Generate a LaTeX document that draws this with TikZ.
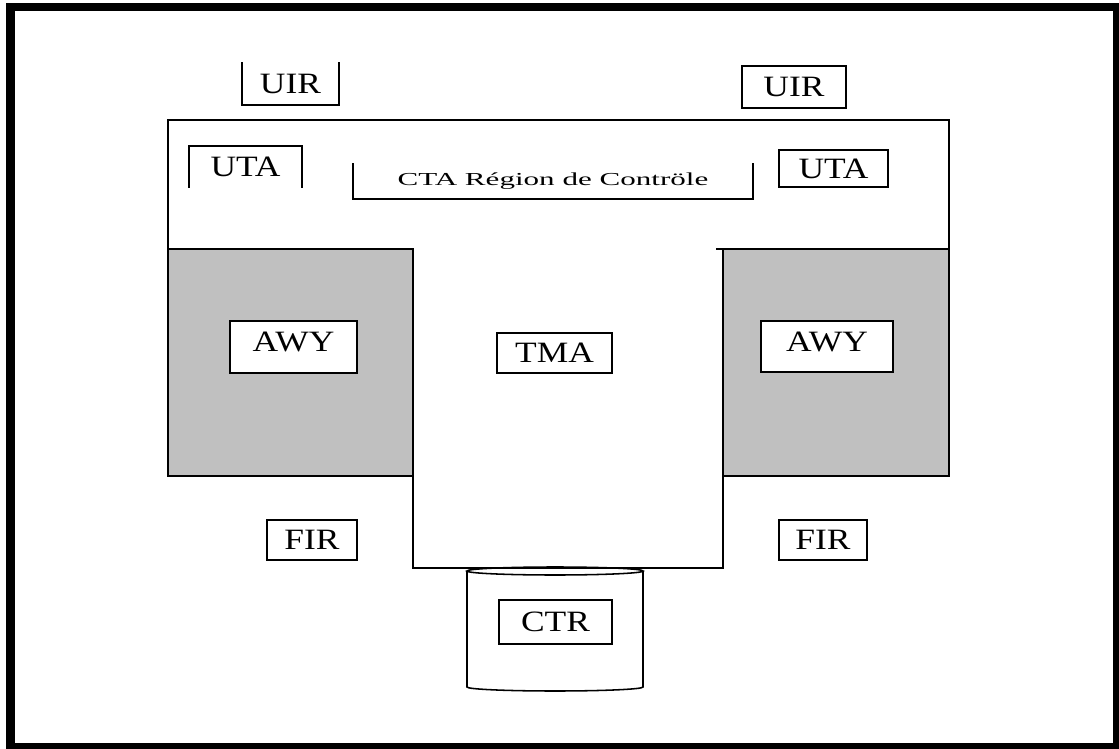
\documentclass[tikz,border=0pt]{standalone}
\usepackage{fontspec}
\setmainfont{Liberation Serif}
\newfontfamily\labfont[FakeStretch=1.2]{Liberation Serif}
\newfontfamily\ctafont[FakeStretch=1.7]{Liberation Serif}
\definecolor{zone-grey}{HTML}{C0C0C0}
\tikzset{
  box/.style 2 args={draw, line width=1.1pt, fill=white, inner sep=0pt,
    minimum width=#1*0.025cm, minimum height=#2*0.025cm,
    font=\labfont\fontsize{21}{24}\selectfont},
  openbox/.style 2 args={box={#1}{#2}, draw=none, fill=none},
}
\begin{document}
\begin{tikzpicture}[x=0.025cm, y=-0.025cm, line width=1.1pt]
    \useasboundingbox (0,0) rectangle (1119,749);
    \draw[line width=5.7pt] (10.5,7) rectangle (1117,747);
    % CTA outline with the TMA below it
    \draw (168,120) -- (949,120) -- (949,476) -- (723,476) -- (723,568) -- (413,568) -- (413,476) -- (168,476) -- cycle;
    \filldraw[fill=zone-grey] (168,249) rectangle (413,476);
    \filldraw[fill=zone-grey] (723,249) rectangle (949,476);
    \draw (716,249) -- (723,249);
    % CTR drum
    \draw (467,571) -- (467,687) arc[start angle=180, end angle=0, x radius=88, y radius=4] -- (643,571);
    \draw (555,571) ellipse [x radius=88, y radius=4];
    % labels
    \node[openbox={95}{41}] (uirL) at (290.5,83.5) {UIR};
    \draw (uirL.north west) -- (uirL.south west) -- (uirL.south east) -- (uirL.north east);
    \node[box={104}{42}] (uirR) at (794,87) {UIR};
    \node[openbox={111}{40}] (utaL) at (245.5,167) {UTA};
    \draw (utaL.south west) -- (utaL.north west) -- (utaL.north east) -- (utaL.south east);
    \node[box={109}{37}] (utaR) at (833.5,168.5) {UTA};
    \node[openbox={398}{34}, font=\ctafont\fontsize{13}{15}\selectfont] (cta) at (553,181) {CTA Région de Contröle};
    \draw (cta.north west) -- (cta.south west) -- (cta.south east) -- (cta.north east);
    \node[box={127}{52}, text depth=0.25cm] (awyL) at (293.5,347) {AWY};
    \node[box={115}{40}] (tma) at (554.5,353) {TMA};
    \node[box={132}{51}, text depth=0.25cm] (awyR) at (827,346.5) {AWY};
    \node[box={90}{40}] (firL) at (312,540) {FIR};
    \node[box={88}{40}] (firR) at (823,540) {FIR};
    \node[box={113}{44}] (ctr) at (555.5,622) {CTR};
\end{tikzpicture}
\end{document}
